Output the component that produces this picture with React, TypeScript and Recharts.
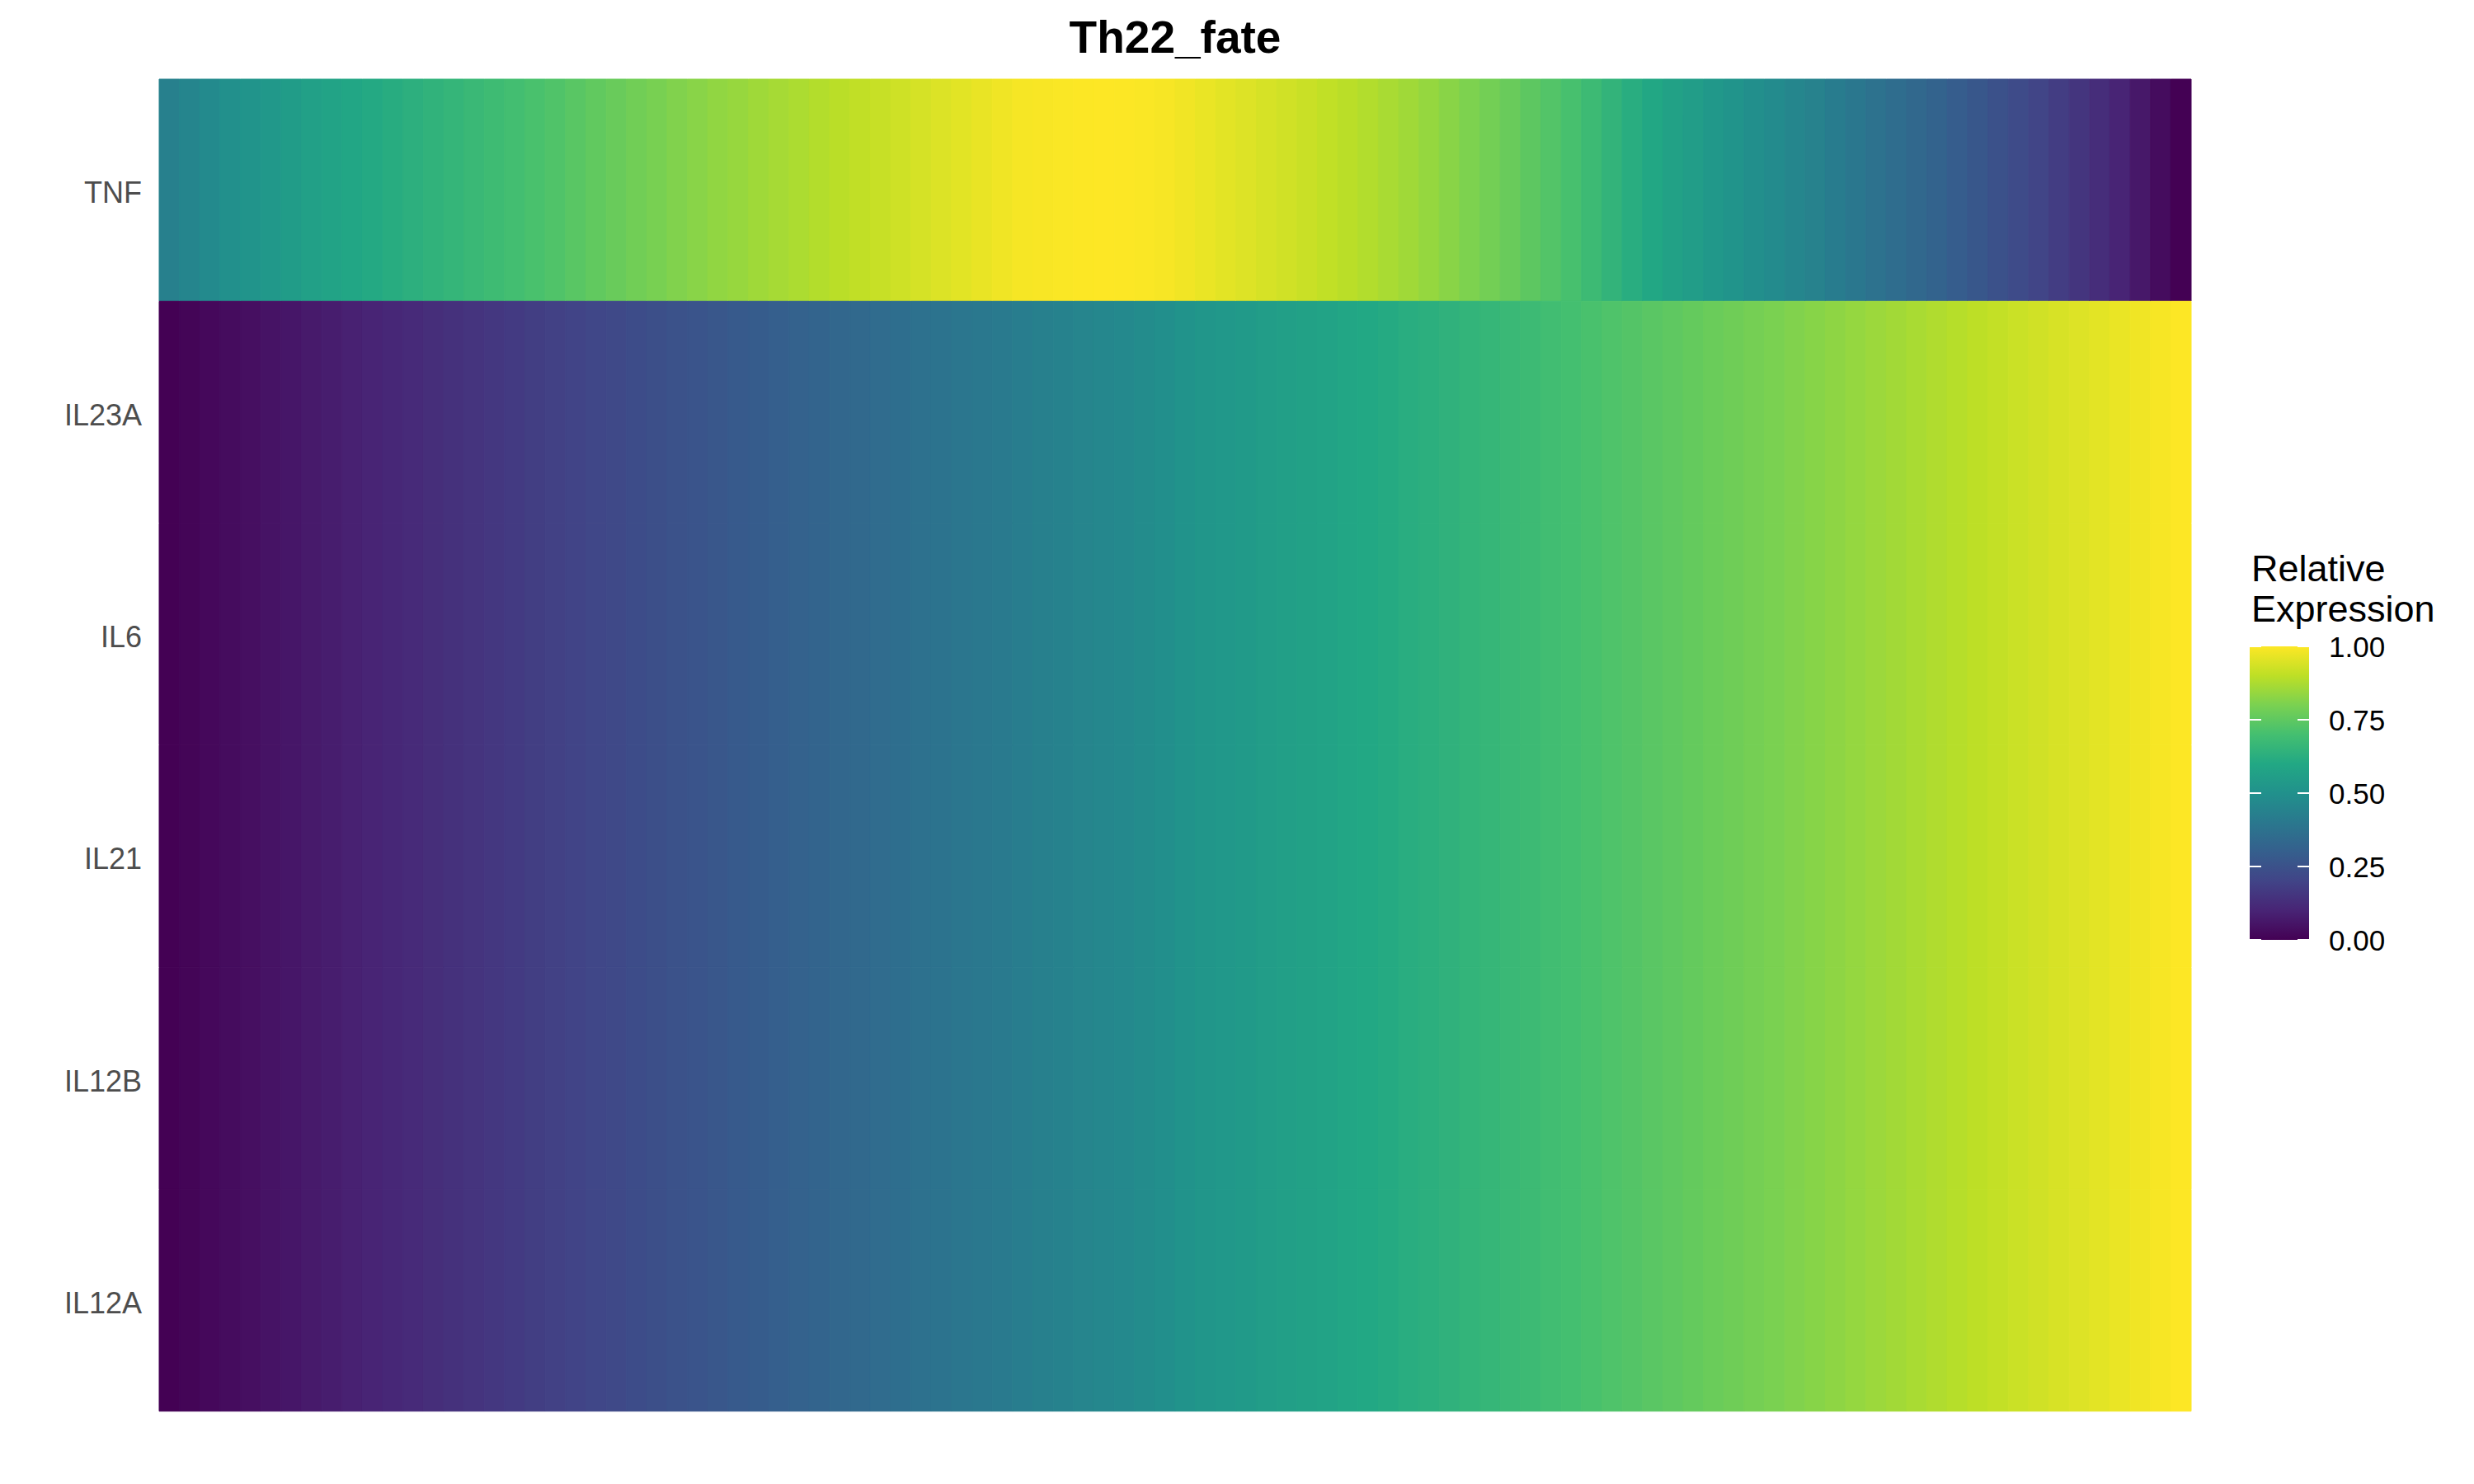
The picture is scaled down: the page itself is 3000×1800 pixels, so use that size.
import { BarChart, Bar, XAxis, YAxis, Cell } from 'recharts';

const TITLE = 'Th22_fate';
const LEGEND_TITLE = ['Relative', 'Expression'];
const LEGEND_TICKS = [0, 0.25, 0.5, 0.75, 1];
const GENES = ['TNF', 'IL23A', 'IL6', 'IL21', 'IL12B', 'IL12A'];

// TNF peaks a little before the middle of pseudotime, then falls to 0
const TNF_VALUES = [
  0.431, 0.452, 0.473, 0.494, 0.513, 0.531, 0.549, 0.567, 0.58, 0.593,
  0.606, 0.619, 0.632, 0.644, 0.657, 0.67, 0.683, 0.696, 0.709, 0.723,
  0.738, 0.754, 0.769, 0.784, 0.797, 0.81, 0.822, 0.834, 0.844, 0.855,
  0.865, 0.875, 0.885, 0.896, 0.906, 0.916, 0.927, 0.937, 0.948, 0.958,
  0.968, 0.979, 0.989, 0.992, 0.995, 0.998, 1.0, 0.998, 0.995, 0.99,
  0.981, 0.97, 0.96, 0.95, 0.939, 0.929, 0.918, 0.907, 0.896, 0.883,
  0.87, 0.857, 0.841, 0.823, 0.805, 0.787, 0.768, 0.747, 0.727, 0.706,
  0.679, 0.649, 0.62, 0.595, 0.57, 0.551, 0.531, 0.512, 0.493, 0.475,
  0.457, 0.438, 0.417, 0.397, 0.376, 0.356, 0.335, 0.315, 0.294, 0.272,
  0.249, 0.225, 0.202, 0.178, 0.152, 0.127, 0.101, 0.065, 0.03, 0.0,
];

// the other five genes all climb steadily from 0 to 1
const RISING_VALUES = [
  0.0, 0.01, 0.02, 0.03, 0.04, 0.05, 0.06, 0.07, 0.08, 0.09,
  0.1, 0.11, 0.12, 0.13, 0.14, 0.15, 0.16, 0.17, 0.18, 0.19,
  0.2, 0.21, 0.22, 0.23, 0.24, 0.25, 0.26, 0.27, 0.28, 0.29,
  0.3, 0.31, 0.32, 0.33, 0.34, 0.35, 0.36, 0.37, 0.38, 0.39,
  0.4, 0.41, 0.42, 0.43, 0.44, 0.45, 0.46, 0.47, 0.48, 0.49,
  0.51, 0.52, 0.53, 0.54, 0.55, 0.56, 0.57, 0.58, 0.59, 0.6,
  0.61, 0.62, 0.63, 0.64, 0.65, 0.66, 0.67, 0.68, 0.69, 0.7,
  0.71, 0.72, 0.73, 0.74, 0.75, 0.76, 0.77, 0.78, 0.79, 0.8,
  0.81, 0.82, 0.83, 0.84, 0.85, 0.86, 0.87, 0.88, 0.89, 0.9,
  0.91, 0.92, 0.93, 0.94, 0.95, 0.96, 0.97, 0.98, 0.99, 1.0,
];

const GENE_VALUES = [TNF_VALUES, RISING_VALUES, RISING_VALUES, RISING_VALUES, RISING_VALUES, RISING_VALUES];

const VIRIDIS = [
  '#440154', '#482475', '#414487', '#355F8D', '#2A788E', '#21918C',
  '#22A884', '#44BF70', '#7AD151', '#BDDF26', '#FDE725',
];

const FONT = '"Liberation Sans", Arial, Helvetica, sans-serif';

function hexToRgb(hex: string) {
  const n = parseInt(hex.slice(1), 16);
  return [(n >> 16) & 255, (n >> 8) & 255, n & 255];
}

function viridis(t: number) {
  const v = Math.min(1, Math.max(0, t)) * (VIRIDIS.length - 1);
  const i = Math.min(Math.floor(v), VIRIDIS.length - 2);
  const f = v - i;
  const a = hexToRgb(VIRIDIS[i]);
  const b = hexToRgb(VIRIDIS[i + 1]);
  const c = a.map((x, k) => Math.round(x + (b[k] - x) * f));
  return `rgb(${c[0]},${c[1]},${c[2]})`;
}

const nCols = TNF_VALUES.length;
const colKeys = TNF_VALUES.map((_, i) => `c${i}`);

// every column is one unit wide; colour carries the value
const rows = GENES.map((gene) => {
  const row: Record<string, string | number> = { gene };
  colKeys.forEach((k) => (row[k] = 1));
  return row;
});

// legend geometry
const BAR_X = 2728;
const BAR_W = 72;
const BAR_TOP = 784;
const BAR_H = 356;
const tickY = (t: number) => BAR_TOP + BAR_H - t * BAR_H;

function GeneTick(props: any) {
  const { x, y, payload } = props;
  return (
    <text x={x} y={y + 3} dy="0.355em" textAnchor="end" fill="#4D4D4D" fontSize={36} fontFamily={FONT}>
      {payload.value}
    </text>
  );
}

export default function App() {
  return (
    <div style={{ position: 'absolute', left: 0, top: 0, width: 3000, height: 1800, background: '#fff' }}>
      <BarChart
        width={3000}
        height={1800}
        data={rows}
        layout="vertical"
        margin={{ top: 96, right: 343, bottom: 88, left: 43 }}
        barCategoryGap={0}
        barGap={0}
      >
        <XAxis type="number" domain={[0, nCols]} hide />
        <YAxis
          type="category"
          dataKey="gene"
          width={150}
          axisLine={false}
          tickLine={false}
          tickSize={0}
          tickMargin={21}
          tick={<GeneTick />}
        />
        {colKeys.map((k, ci) => (
          <Bar key={k} dataKey={k} stackId="heat" isAnimationActive={false}>
            {GENES.map((g, ri) => {
              const col = viridis(GENE_VALUES[ri][ci]);
              return <Cell key={g} fill={col} stroke={col} strokeWidth={1} />;
            })}
          </Bar>
        ))}
      </BarChart>

      <svg
        width={3000}
        height={1800}
        style={{ position: 'absolute', left: 0, top: 0, pointerEvents: 'none' }}
        fontFamily={FONT}
      >
        <text x={1425} y={64} textAnchor="middle" fontSize={55} fontWeight="bold" fill="#000">
          {TITLE}
        </text>

        <defs>
          <linearGradient id="viridisBar" x1="0" y1="1" x2="0" y2="0">
            {VIRIDIS.map((c, i) => (
              <stop key={c} offset={i / (VIRIDIS.length - 1)} stopColor={c} />
            ))}
          </linearGradient>
        </defs>

        {LEGEND_TITLE.map((line, i) => (
          <text key={line} x={2730} y={705 + i * 49} fontSize={45} fill="#000">
            {line}
          </text>
        ))}

        <rect x={BAR_X} y={BAR_TOP} width={BAR_W} height={BAR_H} fill="url(#viridisBar)" />

        {LEGEND_TICKS.map((t) => (
          <g key={t}>
            <line x1={BAR_X} x2={BAR_X + 14} y1={tickY(t)} y2={tickY(t)} stroke="#fff" strokeWidth={2} />
            <line x1={BAR_X + BAR_W - 14} x2={BAR_X + BAR_W} y1={tickY(t)} y2={tickY(t)} stroke="#fff" strokeWidth={2} />
            <text x={2824} y={tickY(t)} dy="0.36em" fontSize={35} fill="#000">
              {t.toFixed(2)}
            </text>
          </g>
        ))}
      </svg>
    </div>
  );
}
